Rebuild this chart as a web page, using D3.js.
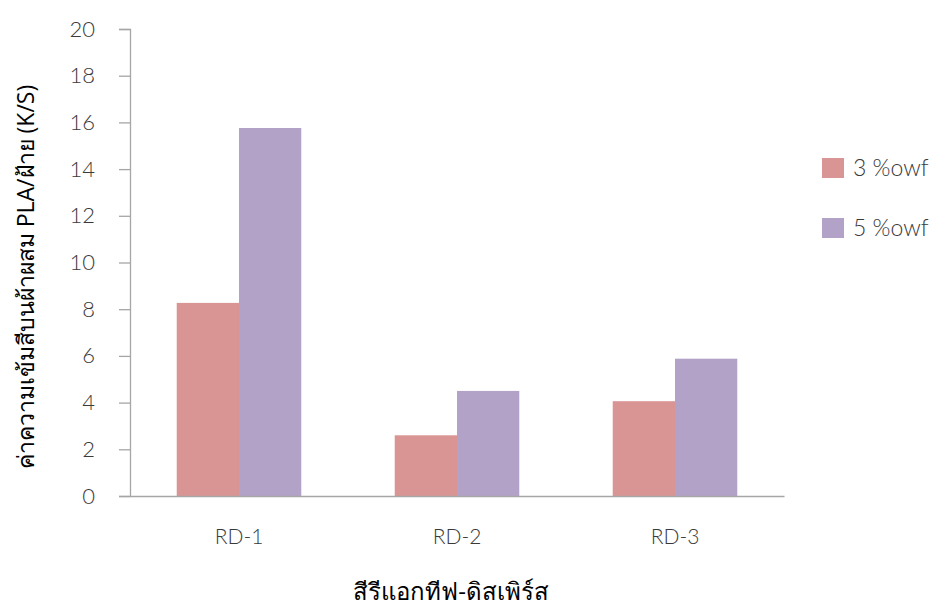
<!DOCTYPE html>
<html>
<head>
<meta charset="utf-8">
<script src="https://cdn.jsdelivr.net/npm/d3@7"></script>
<style>
  html, body { margin: 0; padding: 0; background: #fff; }
  svg { display: block; }
  text { font-family: "Open Sans", "Noto Sans", "DejaVu Sans", sans-serif; }
</style>
</head>
<body>
<svg id="chart" width="943" height="607"></svg>
<script>
// Dye samples and K/S values for each dye concentration
const categories = ["RD-1", "RD-2", "RD-3"];
const seriesNames = ["3 %owf", "5 %owf"];
const values3 = [8.27, 2.6, 4.06];
const values5 = [15.76, 4.5, 5.88];
const yTicks = [0, 2, 4, 6, 8, 10, 12, 14, 16, 18, 20];
const colors = ["#D99594", "#B2A2C7"];

const svg = d3.select("#chart");
const plotLeft = 130, plotRight = 784, plotTop = 29, plotBottom = 496;
const labelFont = "Lato, 'Open Sans', sans-serif";

const x = d3.scaleBand().domain(categories).range([plotLeft, plotRight]).padding(0);
const y = d3.scaleLinear().domain([0, 20]).range([plotBottom, plotTop]);
const inner = d3.scaleBand().domain(seriesNames).range([0, x.bandwidth()])
  .paddingOuter(0.75).paddingInner(0);

const series = [values3, values5];

// Bars
series.forEach((vals, si) => {
  svg.append("g").selectAll("rect")
    .data(categories)
    .join("rect")
    .attr("x", d => x(d) + inner(seriesNames[si]))
    .attr("width", inner.bandwidth())
    .attr("y", (d, i) => y(vals[i]))
    .attr("height", (d, i) => y(0) - y(vals[i]))
    .attr("fill", colors[si]);
});

// Y axis
const yAxis = svg.append("g")
  .attr("transform", `translate(${plotLeft},0)`)
  .call(d3.axisLeft(y).tickValues(yTicks).tickSize(11).tickPadding(24).tickFormat(d3.format("d")));
yAxis.select(".domain").attr("stroke", "#A6A6A6").attr("stroke-width", 1.3);
yAxis.selectAll(".tick line").attr("stroke", "#A6A6A6").attr("stroke-width", 1.3);
yAxis.selectAll(".tick text")
  .attr("fill", "#3a3a3a")
  .style("font-size", "22px")
  .style("font-family", labelFont)
  .style("font-weight", "300");

// X axis
const xAxis = svg.append("g")
  .attr("transform", `translate(0,${plotBottom})`)
  .call(d3.axisBottom(x).tickSize(0).tickPadding(33));
xAxis.select(".domain").attr("stroke", "#A6A6A6").attr("stroke-width", 1.3);
xAxis.selectAll(".tick text")
  .attr("fill", "#3a3a3a")
  .style("font-size", "21px")
  .style("font-family", labelFont)
  .style("font-weight", "300");

// Axis titles
svg.append("text")
  .attr("transform", `translate(34,${277}) rotate(-90)`)
  .attr("text-anchor", "middle")
  .attr("fill", "#000")
  .style("font-size", "23px")
  .style("font-weight", "500")
  .text("ค่าความเข้มสีบนผ้าผสม PLA/ฝ้าย (K/S)");

svg.append("text")
  .attr("x", 451)
  .attr("y", 600)
  .attr("text-anchor", "middle")
  .attr("fill", "#000")
  .style("font-size", "24px")
  .style("font-weight", "500")
  .text("สีรีแอกทีฟ-ดิสเพิร์ส");

// Legend
const legend = svg.append("g").selectAll("g")
  .data(seriesNames)
  .join("g")
  .attr("transform", (d, i) => `translate(822,${158 + i * 60})`);
legend.append("rect")
  .attr("width", 22).attr("height", 20)
  .attr("fill", (d, i) => colors[i]);
legend.append("text")
  .attr("x", 31).attr("y", 18)
  .attr("fill", "#3a3a3a")
  .style("font-size", "23px")
  .style("font-family", labelFont)
  .style("font-weight", "300")
  .text(d => d);
</script>
</body>
</html>
